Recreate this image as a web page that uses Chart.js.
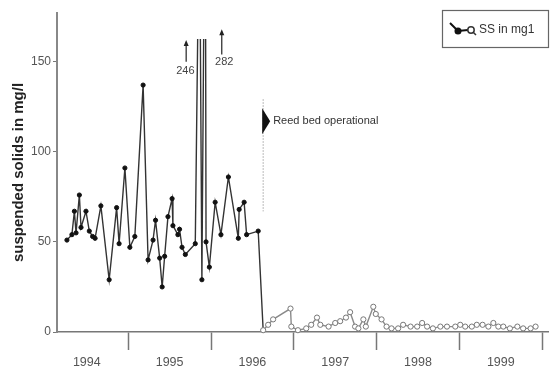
<!DOCTYPE html>
<html>
<head>
<meta charset="utf-8">
<script src="https://cdn.jsdelivr.net/npm/chart.js@4.4.1/dist/chart.umd.min.js"></script>
<style>
  html, body { margin: 0; padding: 0; background: #fff; }
  #wrap { width: 553px; height: 372px; position: relative; }
</style>
</head>
<body>
<div id="wrap"><canvas id="ss"></canvas></div>
<script>
/* Suspended solids before / after the reed bed went in. */
// before reed bed (filled markers), x in decimal years
const preDates = [1994.26, 1994.32, 1994.35, 1994.37, 1994.41, 1994.43, 1994.49, 1994.53, 1994.57, 1994.60,
  1994.67, 1994.77, 1994.86, 1994.89, 1994.96, 1995.02, 1995.08, 1995.18, 1995.24, 1995.30,
  1995.33, 1995.38, 1995.41, 1995.44, 1995.48, 1995.53, 1995.54, 1995.60, 1995.62, 1995.65,
  1995.69, 1995.81, 1995.86, 1995.89, 1995.93, 1995.94, 1995.98, 1996.05, 1996.12, 1996.21,
  1996.33, 1996.34, 1996.40, 1996.43, 1996.57];
const preSS = [51, 54, 67, 55, 76, 58, 67, 56, 53, 52,
  70, 29, 69, 49, 91, 47, 53, 137, 40, 51,
  62, 41, 25, 42, 64, 74, 59, 54, 57, 47,
  43, 49, 246, 29, 282, 50, 36, 72, 54, 86,
  52, 68, 72, 54, 56];
// after reed bed (open markers)
const postDates = [1996.63, 1996.69, 1996.75, 1996.96, 1996.97, 1997.05, 1997.15, 1997.21, 1997.28, 1997.32,
  1997.42, 1997.50, 1997.56, 1997.63, 1997.68, 1997.74, 1997.78, 1997.84, 1997.87, 1997.96,
  1997.99, 1998.06, 1998.12, 1998.18, 1998.26, 1998.32, 1998.41, 1998.49, 1998.55, 1998.61,
  1998.68, 1998.77, 1998.85, 1998.95, 1999.01, 1999.07, 1999.15, 1999.21, 1999.28, 1999.35,
  1999.41, 1999.47, 1999.53, 1999.61, 1999.70, 1999.77, 1999.86, 1999.92];
const postSS = [1, 4, 7, 13, 3, 1, 2, 4, 8, 4,
  3, 5, 6, 8, 11, 3, 2, 7, 3, 14,
  10, 7, 3, 2, 2, 4, 3, 3, 5, 3,
  2, 3, 3, 3, 4, 3, 3, 4, 4, 3,
  5, 3, 3, 2, 3, 2, 2, 3];
const yearEdges = [1995, 1996, 1997, 1998, 1999, 2000];
const yearLabels = [1994, 1995, 1996, 1997, 1998, 1999];
const yTicks = [0, 50, 100, 150];
const reedBedDate = 1996.63;

const FONT = "'Liberation Sans', Arial, sans-serif";
const nPre = preDates.length;
const pts = preDates.map((d, i) => ({ x: d, y: preSS[i] }))
  .concat(postDates.map((d, i) => ({ x: d, y: postSS[i] })));

// arrows, off-scale labels, reed bed marker, legend box
const notes = {
  id: "notes",
  afterDraw(chart) {
    const { ctx, scales: { x, y } } = chart;
    ctx.save();
    const arrow = (xv, y0, y1) => {
      const px = x.getPixelForValue(xv), a = y.getPixelForValue(y0), b = y.getPixelForValue(y1);
      ctx.strokeStyle = "#222"; ctx.fillStyle = "#222"; ctx.lineWidth = 1.2;
      ctx.beginPath(); ctx.moveTo(px, a); ctx.lineTo(px, b + 4); ctx.stroke();
      ctx.beginPath(); ctx.moveTo(px, b); ctx.lineTo(px - 2.5, b + 6); ctx.lineTo(px + 2.5, b + 6); ctx.closePath(); ctx.fill();
    };
    arrow(1995.70, 150, 162);
    arrow(1996.13, 154, 168);
    ctx.font = "11px " + FONT; ctx.fillStyle = "#444"; ctx.textAlign = "center"; ctx.textBaseline = "middle";
    ctx.fillText("246", x.getPixelForValue(1995.69), y.getPixelForValue(145));
    ctx.fillText("282", x.getPixelForValue(1996.16), y.getPixelForValue(150));

    // reed bed operational
    const rx = x.getPixelForValue(reedBedDate);
    ctx.strokeStyle = "#777"; ctx.lineWidth = 1; ctx.setLineDash([1, 2]);
    ctx.beginPath(); ctx.moveTo(rx, y.getPixelForValue(129)); ctx.lineTo(rx, y.getPixelForValue(67)); ctx.stroke();
    ctx.setLineDash([]);
    const ty = y.getPixelForValue(117);
    ctx.fillStyle = "#111";
    ctx.beginPath(); ctx.moveTo(rx - 1, ty - 13); ctx.lineTo(rx + 7, ty); ctx.lineTo(rx - 1, ty + 13); ctx.closePath(); ctx.fill();
    ctx.font = "11px " + FONT; ctx.fillStyle = "#333"; ctx.textAlign = "left";
    ctx.fillText("Reed bed operational", rx + 10, ty);

    // legend box
    ctx.strokeStyle = "#666"; ctx.lineWidth = 1.2;
    ctx.strokeRect(442.5, 10.5, 106, 37);
    ctx.strokeStyle = "#111"; ctx.lineWidth = 2;
    ctx.beginPath(); ctx.moveTo(450, 23); ctx.lineTo(458, 31); ctx.lineTo(468, 30); ctx.stroke();
    ctx.fillStyle = "#111";
    ctx.beginPath(); ctx.arc(458, 31, 3.5, 0, Math.PI * 2); ctx.fill();
    ctx.fillStyle = "#fff"; ctx.strokeStyle = "#333"; ctx.lineWidth = 1.5;
    ctx.beginPath(); ctx.arc(471, 30, 3.2, 0, Math.PI * 2); ctx.fill(); ctx.stroke();
    ctx.beginPath(); ctx.moveTo(473, 32); ctx.lineTo(476, 35); ctx.stroke();
    ctx.font = "12px " + FONT; ctx.fillStyle = "#333"; ctx.textAlign = "left";
    ctx.fillText("SS in mg1", 479, 30);
    ctx.restore();
  }
};

new Chart(document.getElementById("ss"), {
  type: "line",
  data: {
    datasets: [{
      data: pts,
      borderWidth: 1.4,
      segment: { borderColor: (c) => (c.p0DataIndex >= nPre ? "#8a8a8a" : "#333") },
      pointRadius: (c) => (c.dataIndex >= nPre ? 2.6 : 2.1),
      pointBackgroundColor: (c) => (c.dataIndex >= nPre ? "#fff" : "#111"),
      pointBorderColor: (c) => (c.dataIndex >= nPre ? "#777" : "#111"),
      pointBorderWidth: 1,
      tension: 0,
      clip: { left: 5, top: -26, right: 5, bottom: 5 },
    }],
  },
  plugins: [notes],
  options: {
    responsive: true, maintainAspectRatio: false, animation: false,
    layout: { padding: { top: 13, right: 5, left: 0, bottom: 0 } },
    plugins: { legend: { display: false }, tooltip: { enabled: false } },
    scales: {
      x: {
        type: "linear", min: 1994.14, max: 2000.07,
        border: { color: "#777", width: 1.5 },
        grid: { drawOnChartArea: false, tickLength: 18, tickWidth: 1.5,
          tickColor: (c) => (c.tick && Number.isInteger(c.tick.value) ? "#777" : "rgba(0,0,0,0)") },
        ticks: { color: "#555", font: { family: FONT, size: 12.5 }, padding: 5, maxRotation: 0, autoSkip: false,
          callback: (v) => (Number.isInteger(v) ? "" : String(Math.floor(v))) },
        afterBuildTicks: (s) => { s.ticks = yearEdges.concat(yearLabels.map((yr) => yr + 0.5)).sort((a, b) => a - b).map((v) => ({ value: v })); },
        afterFit: (s) => { s.height = 40; },
      },
      y: {
        min: 0, max: 177,
        border: { color: "#888", width: 2 },
        grid: { drawOnChartArea: false, tickLength: 4, tickColor: "#777" },
        ticks: { color: "#555", font: { family: FONT, size: 12 }, padding: 2 },
        afterBuildTicks: (s) => { s.ticks = yTicks.map((v) => ({ value: v })); },
        title: { display: true, text: "suspended solids in mg/l", color: "#222",
          font: { family: FONT, size: 15, weight: "bold" }, padding: { top: 10, bottom: 0 } },
        afterFit: (s) => { s.width = 57; },
      },
    },
  },
});
</script>
</body>
</html>
